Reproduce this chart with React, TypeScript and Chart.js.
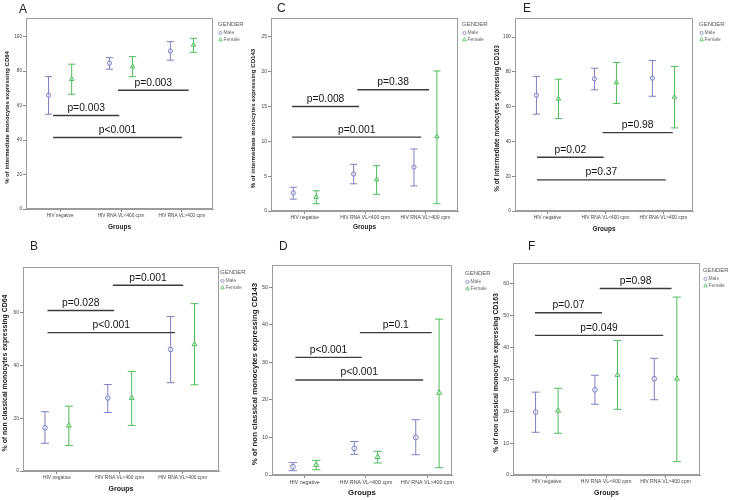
import React, { useEffect, useRef } from "react";
import { Chart, registerables } from "chart.js";
Chart.register(...registerables);

// ---------- DATA (panels in order A, B, C, D, E, F) ----------
const groups = ["HIV negative", "HIV RNA VL<400 cpm", "HIV RNA VL>400 cpm"];
const panelLetters = ["A", "B", "C", "D", "E", "F"];
const yTitles = [
  "% of intermediate monocytes expressing CD64",
  "% of non classical monocytes expressing CD64",
  "% of intermediate monocytes expressing CD143",
  "% of non classical monocytes expressing CD143",
  "% of intermediate monocytes expressing CD163",
  "% of non classical monocytes expressing CD163",
];
const xTitle = "Groups";
const legendTitle = "GENDER";
const seriesNames = ["Male", "Female"];

const maleMean = [
  [66, 84.6, 91.7],
  [16.4, 27.7, 46.1],
  [2.6, 5.3, 6.3],
  [2.2, 7.1, 10.0],
  [66.6, 76, 76.4],
  [19.7, 26.7, 30.2],
];
const maleLow = [
  [55, 81.1, 86.3],
  [10.5, 22.2, 33.5],
  [1.7, 3.9, 3.6],
  [1.15, 5.5, 5.4],
  [55.7, 69.7, 66],
  [13.4, 22.2, 23.6],
];
const maleHigh = [
  [76.8, 87.8, 97.1],
  [22.5, 32.8, 58.6],
  [3.4, 6.7, 8.9],
  [3.3, 8.9, 14.7],
  [77.4, 82.1, 86.6],
  [26.0, 31.3, 36.6],
];
const femaleMean = [
  [75.3, 82.6, 95.2],
  [17.2, 27.7, 48.1],
  [2.0, 4.5, 10.7],
  [2.7, 4.8, 21.9],
  [64.5, 73.9, 65.6],
  [20.2, 31.4, 30.2],
];
const femaleLow = [
  [66.6, 76.8, 90.9],
  [9.7, 17.3, 32.7],
  [1.05, 2.4, 1.05],
  [1.4, 3.2, 1.95],
  [53.2, 61.8, 47.8],
  [13.1, 20.6, 4.2],
];
const femaleHigh = [
  [84, 88.4, 99],
  [24.6, 37.8, 63.5],
  [2.9, 6.5, 20.1],
  [3.9, 6.3, 41.5],
  [75.8, 85.4, 83.1],
  [27.2, 42.2, 55.8],
];

const yTicks = [
  [0, 20, 40, 60, 80, 100],
  [0, 20, 40, 60],
  [0, 5, 10, 15, 20, 25],
  [0, 10, 20, 30, 40, 50],
  [0, 20, 40, 60, 80, 100],
  [0, 10, 20, 30, 40, 50, 60],
];
const yMax = [110.8, 77.4, 27.7, 55.9, 111, 66.5];
const xMin = [0.44, 0.46, 0.44, 0.47, 0.44, 0.43];
const xMax = [3.51, 3.58, 3.54, 3.4, 3.51, 3.58];

const pLabels = [
  ["p=0.003", "p=0.003", "p<0.001"],
  ["p=0.028", "p=0.001", "p<0.001"],
  ["p=0.008", "p=0.38", "p=0.001"],
  ["p<0.001", "p=0.1", "p<0.001"],
  ["p=0.02", "p=0.98", "p=0.37"],
  ["p=0.07", "p=0.98", "p=0.049"],
];
const pLevels = [
  [54.2, 68.9, 41.5],
  [60.9, 70.5, 52.5],
  [15.0, 17.4, 10.6],
  [31.3, 37.9, 25.3],
  [30.9, 45.1, 17.9],
  [50.9, 58.5, 43.8],
];
const pFrom = [
  [0.885, 1.95, 0.885],
  [0.85, 1.89, 0.85],
  [0.79, 1.87, 0.79],
  [0.85, 1.9, 0.85],
  [0.82, 1.95, 0.82],
  [0.8, 1.89, 0.8],
];
const pTo = [
  [1.97, 3.11, 3.0],
  [1.91, 3.01, 2.88],
  [1.9, 3.06, 2.93],
  [1.93, 3.07, 2.93],
  [1.97, 3.16, 3.04],
  [1.93, 3.1, 2.96],
];

// ---------- LAYOUT / STYLE ----------
const FONT = '"Liberation Sans", Arial, Helvetica, sans-serif';
const MALE = "#7d80c2";
const FEMALE = "#4dbd5c";
const OFF = 0.19;

type Layout = {
  x: number; y: number; w: number; h: number;
  plot: [number, number, number, number];
  letter: [number, number];
  yTitleX: number; yTitleLen: number;
  groupsY: number; groupsLen: number;
  legend: [number, number];
  s: number;
  tick: number;
};

const layouts: Layout[] = [
  { x: 0, y: 0, w: 255, h: 240, plot: [26, 18, 213, 209], letter: [19, 13], yTitleX: 7.5, yTitleLen: 133, groupsY: 227, groupsLen: 23, legend: [218, 24], s: 1, tick: 4.7 },
  { x: 0, y: 240, w: 255, h: 260, plot: [23, 267, 219, 471], letter: [30, 250], yTitleX: 5.5, yTitleLen: 157, groupsY: 489, groupsLen: 25, legend: [220, 272], s: 1.1, tick: 4.9 },
  { x: 240, y: 0, w: 262, h: 240, plot: [271, 18, 458, 211], letter: [277, 12], yTitleX: 253, yTitleLen: 140, groupsY: 227, groupsLen: 23, legend: [462, 24], s: 1, tick: 5.0 },
  { x: 240, y: 240, w: 262, h: 260, plot: [272, 265, 452, 475], letter: [279, 250], yTitleX: 255, yTitleLen: 183, groupsY: 493, groupsLen: 28, legend: [465, 273], s: 1.15, tick: 5.3 },
  { x: 480, y: 0, w: 250, h: 240, plot: [515, 18, 693, 211], letter: [523, 12], yTitleX: 497, yTitleLen: 147, groupsY: 229, groupsLen: 23, legend: [699, 24], s: 1, tick: 4.8 },
  { x: 480, y: 240, w: 250, h: 260, plot: [513, 263, 700, 475], letter: [528, 250], yTitleX: 496, yTitleLen: 160, groupsY: 493, groupsLen: 25, legend: [703, 270], s: 1.1, tick: 5.1 },
];

function whiskers(lo: number[], hi: number[], off: number) {
  const pts: { x: number; y: number | null }[] = [];
  lo.forEach((l, k) => {
    const x = k + 1 + off;
    pts.push({ x, y: l }, { x, y: hi[k] }, { x, y: null });
  });
  return pts;
}
function means(m: number[], off: number) {
  return m.map((v, k) => ({ x: k + 1 + off, y: v }));
}

function fitFont(ctx: CanvasRenderingContext2D, text: string, len: number, weight: string) {
  ctx.font = `${weight} 10px ${FONT}`;
  const w = ctx.measureText(text).width;
  return (10 * len) / w;
}

function panelPlugin(i: number) {
  return {
    id: "panel" + i,
    afterDraw(chart: any) {
      const ctx: CanvasRenderingContext2D = chart.ctx;
      const L = layouts[i];
      const ca = chart.chartArea;
      const xs = chart.scales.x;
      const ys = chart.scales.y;
      ctx.save();
      // plot frame
      ctx.strokeStyle = "#9c9c9c";
      ctx.lineWidth = 1;
      ctx.strokeRect(Math.round(ca.left) + 0.5, Math.round(ca.top) + 0.5, Math.round(ca.right - ca.left) - 1, Math.round(ca.bottom - ca.top) - 1);

      // p-value brackets
      for (let k = 0; k < pLabels[i].length; k++) {
        const y = ys.getPixelForValue(pLevels[i][k]);
        const x1 = xs.getPixelForValue(pFrom[i][k]);
        const x2 = xs.getPixelForValue(pTo[i][k]);
        ctx.strokeStyle = "#3c3c3c";
        ctx.lineWidth = 1.4;
        ctx.beginPath();
        ctx.moveTo(x1, y);
        ctx.lineTo(x2, y);
        ctx.stroke();
        ctx.fillStyle = "#151515";
        ctx.font = `10.3px ${FONT}`;
        ctx.textAlign = "center";
        ctx.textBaseline = "alphabetic";
        ctx.fillText(pLabels[i][k], (x1 + x2) / 2, y - 4.5);
      }

      // panel letter
      ctx.fillStyle = "#222";
      ctx.font = `12px ${FONT}`;
      ctx.textAlign = "left";
      ctx.textBaseline = "alphabetic";
      ctx.fillText(panelLetters[i], L.letter[0] - L.x, L.letter[1] - L.y);

      // y title
      const ySize = fitFont(ctx, yTitles[i], L.yTitleLen, "bold");
      ctx.font = `bold ${ySize}px ${FONT}`;
      ctx.fillStyle = "#222";
      ctx.textAlign = "center";
      ctx.textBaseline = "middle";
      ctx.save();
      ctx.translate(L.yTitleX - L.x, (ca.top + ca.bottom) / 2 + 4);
      ctx.rotate(-Math.PI / 2);
      ctx.fillText(yTitles[i], 0, 0);
      ctx.restore();

      // x title
      const gSize = fitFont(ctx, xTitle, L.groupsLen, "bold");
      ctx.font = `bold ${gSize}px ${FONT}`;
      ctx.fillText(xTitle, (ca.left + ca.right) / 2, L.groupsY - L.y);

      // legend
      const lx = L.legend[0] - L.x;
      const ly = L.legend[1] - L.y;
      ctx.textAlign = "left";
      ctx.fillStyle = "#555";
      ctx.font = `6px ${FONT}`;
      ctx.fillText(legendTitle, lx, ly);
      ctx.font = `4.9px ${FONT}`;
      ctx.fillStyle = "#666";
      ctx.fillText(seriesNames[0], lx + 5.5, ly + 9);
      ctx.fillText(seriesNames[1], lx + 5.5, ly + 15.5);
      ctx.lineWidth = 0.8;
      ctx.strokeStyle = MALE;
      ctx.beginPath();
      ctx.arc(lx + 2.5, ly + 9, 1.6, 0, Math.PI * 2);
      ctx.stroke();
      ctx.strokeStyle = FEMALE;
      ctx.beginPath();
      ctx.moveTo(lx + 2.5, ly + 13.6);
      ctx.lineTo(lx + 4.3, ly + 16.8);
      ctx.lineTo(lx + 0.7, ly + 16.8);
      ctx.closePath();
      ctx.stroke();
      ctx.restore();
    },
  };
}

function makeConfig(i: number): any {
  const L = layouts[i];
  const [pl, pt, pr, pb] = L.plot;
  const s = L.s;
  const tickFont = { size: L.tick, family: FONT };
  return {
    type: "scatter",
    data: {
      datasets: [
        {
          type: "scatter",
          data: means(maleMean[i], -OFF),
          pointStyle: "circle",
          pointRadius: 2.1 * s,
          borderColor: MALE,
          backgroundColor: "rgba(255,255,255,0.4)",
          borderWidth: 1,
        },
        {
          type: "scatter",
          data: means(femaleMean[i], OFF),
          pointStyle: "triangle",
          pointRadius: 2.6 * s,
          borderColor: FEMALE,
          backgroundColor: "rgba(255,255,255,0.4)",
          borderWidth: 1,
        },
        {
          type: "line",
          data: whiskers(maleLow[i], maleHigh[i], -OFF),
          borderColor: MALE,
          borderWidth: 1,
          pointStyle: "line",
          pointRadius: 3.6 * s,
          pointBorderColor: MALE,
          pointBorderWidth: 1,
          spanGaps: false,
          fill: false,
          tension: 0,
        },
        {
          type: "line",
          data: whiskers(femaleLow[i], femaleHigh[i], OFF),
          borderColor: FEMALE,
          borderWidth: 1,
          pointStyle: "line",
          pointRadius: 3.6 * s,
          pointBorderColor: FEMALE,
          pointBorderWidth: 1,
          spanGaps: false,
          fill: false,
          tension: 0,
        },
      ],
    },
    options: {
      responsive: false,
      maintainAspectRatio: false,
      animation: false,
      devicePixelRatio: 1,
      events: [],
      layout: { padding: { left: 0, top: pt - L.y, right: L.x + L.w - pr, bottom: 0 } },
      plugins: { legend: { display: false }, tooltip: { enabled: false }, title: { display: false } },
      scales: {
        x: {
          type: "linear",
          min: xMin[i],
          max: xMax[i],
          afterBuildTicks: (sc: any) => {
            sc.ticks = groups.map((_, k) => ({ value: k + 1 }));
          },
          afterFit: (sc: any) => {
            sc.height = L.y + L.h - pb;
          },
          ticks: {
            callback: (v: any) => groups[Math.round(v) - 1] ?? "",
            font: tickFont,
            color: "#444",
            padding: 1,
            maxRotation: 0,
            minRotation: 0,
            autoSkip: false,
          },
          grid: { drawOnChartArea: false, drawTicks: true, tickLength: 3, color: "#888" },
          border: { display: true, color: "#9c9c9c" },
        },
        y: {
          type: "linear",
          min: 0,
          max: yMax[i],
          afterBuildTicks: (sc: any) => {
            sc.ticks = yTicks[i].map((v) => ({ value: v }));
          },
          afterFit: (sc: any) => {
            sc.width = pl - L.x;
          },
          ticks: { font: tickFont, color: "#444", padding: 1 },
          grid: { drawOnChartArea: false, drawTicks: true, tickLength: 3, color: "#888" },
          border: { display: true, color: "#9c9c9c" },
        },
      },
    },
    plugins: [panelPlugin(i)],
  };
}

export default function App() {
  const refs = useRef<(HTMLCanvasElement | null)[]>([]);
  useEffect(() => {
    const charts = layouts.map((_, i) => new Chart(refs.current[i] as HTMLCanvasElement, makeConfig(i)));
    return () => charts.forEach((c) => c.destroy());
  }, []);
  return (
    <div style={{ position: "absolute", left: 0, top: 0, width: 730, height: 500, background: "#fff", overflow: "hidden" }}>
      {layouts.map((L, i) => (
        <canvas
          key={i}
          ref={(el) => {
            refs.current[i] = el;
          }}
          width={L.w}
          height={L.h}
          style={{ position: "absolute", left: L.x, top: L.y, width: L.w, height: L.h }}
        />
      ))}
    </div>
  );
}
